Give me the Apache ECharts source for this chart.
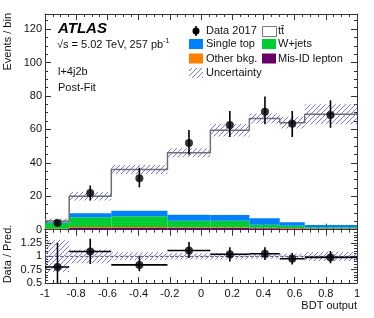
<!DOCTYPE html>
<html><head><meta charset="utf-8">
<script src="https://cdn.jsdelivr.net/npm/echarts@6/dist/echarts.min.js"></script>
<style>html,body{margin:0;padding:0;background:#fff}#c{width:374px;height:318px}</style>
</head><body><div id="c"></div>
<script>
// ---- data ----
const binEdges = [-1, -0.845, -0.575, -0.215, 0.06, 0.31, 0.505, 0.665, 1];
const misIdLepton = [0.3, 1.0, 1.0, 1.0, 1.0, 0.8, 0.7, 0.5];
const otherBkg = [0.2, 0.6, 0.6, 0.5, 0.5, 0.4, 0.3, 0.2];
const wJets = [3.5, 5.8, 6.4, 3.9, 3.9, 1.8, 1.4, 0.7];
const singleTop = [0.5, 2.4, 3.4, 3.6, 3.4, 3.8, 2.0, 1.4];
const ttbar = [0.7, 10.2, 24.6, 37.0, 50.7, 59.7, 59.6, 66.2];
const predUncert = [1.5, 2.6, 2.7, 2.7, 3.7, 3.0, 3.5, 6.0];
const dataX = [-0.92, -0.71, -0.395, -0.077, 0.185, 0.41, 0.585, 0.83];
const dataY = [4.0, 22.0, 30.8, 51.8, 62.6, 70.6, 63.4, 68.6];
const dataErrLo = [2.0, 4.6, 5.4, 7.0, 7.2, 7.6, 8.0, 7.6];
const dataErrHi = [2.0, 4.4, 6.2, 7.8, 8.4, 9.0, 7.6, 8.8];
const ratioY = [0.80, 1.09, 0.84, 1.11, 1.04, 1.05, 0.955, 0.98];
const ratioErrLo = [0.40, 0.235, 0.12, 0.14, 0.135, 0.12, 0.11, 0.11];
const ratioErrHi = [0.45, 0.24, 0.16, 0.16, 0.13, 0.12, 0.11, 0.12];
const ratioBand = [0.3, 0.13, 0.075, 0.06, 0.06, 0.045, 0.055, 0.085];

// ---- build ----
const FONT = "'Liberation Sans', Arial, Helvetica, sans-serif";
const nBins = binEdges.length - 1;
const COL = {misid:'#660066', other:'#ff7f00', wjets:'#00cc33', stop:'#0080ff'};

const hatch = document.createElement('canvas');
hatch.width = 5; hatch.height = 5;
(function(){
  const g = hatch.getContext('2d');
  g.strokeStyle = '#7575ff'; g.lineWidth = 1;
  g.beginPath();
  g.moveTo(-1, 6); g.lineTo(6, -1);
  g.moveTo(-1, 1); g.lineTo(1, -1);
  g.moveTo(4, 6); g.lineTo(6, 4);
  g.stroke();
})();
const hatchFill = {image: hatch, repeat: 'repeat'};

const layers = [misIdLepton, otherBkg, wJets, singleTop, ttbar];
const cum = [new Array(nBins).fill(0)];
layers.forEach((arr, k) => cum.push(arr.map((v, i) => cum[k][i] + v)));
const total = cum[cum.length - 1];

function rectSeries(lo, hi, fill, xi, yi, z) {
  const data = [];
  for (let i = 0; i < nBins; i++) data.push([binEdges[i], binEdges[i+1], lo[i], hi[i]]);
  return {
    type: 'custom', xAxisIndex: xi, yAxisIndex: yi, z: z, silent: true, clip: true,
    encode: {x: [0, 1], y: [2, 3]},
    data: data,
    renderItem: function (params, api) {
      const a = api.coord([api.value(0), api.value(3)]);
      const b = api.coord([api.value(1), api.value(2)]);
      return {type: 'rect', shape: {x: a[0], y: a[1], width: b[0] - a[0], height: b[1] - a[1]},
        style: {fill: fill, stroke: null}};
    }
  };
}
function segSeries(segs, xi, yi, color, width, z) {
  return {
    type: 'custom', xAxisIndex: xi, yAxisIndex: yi, z: z, silent: true, clip: true,
    encode: {x: [0, 2], y: [1, 3]},
    data: segs,
    renderItem: function (params, api) {
      const a = api.coord([api.value(0), api.value(1)]);
      const b = api.coord([api.value(2), api.value(3)]);
      return {type: 'line', shape: {x1: a[0], y1: a[1], x2: b[0], y2: b[1]},
        style: {stroke: color, lineWidth: width}};
    }
  };
}

const series = [];
const stackCols = [COL.misid, COL.other, COL.wjets, COL.stop];
stackCols.forEach((c, k) => series.push(rectSeries(cum[k], cum[k+1], c, 0, 0, 1)));
series.push(rectSeries(total.map((t, i) => t - predUncert[i]), total.map((t, i) => t + predUncert[i]), hatchFill, 0, 0, 2));
const stepPts = [];
for (let i = 0; i < nBins; i++) { stepPts.push([binEdges[i], total[i]]); stepPts.push([binEdges[i+1], total[i]]); }
series.push({type: 'line', xAxisIndex: 0, yAxisIndex: 0, data: stepPts, symbol: 'none', z: 3, silent: true,
  lineStyle: {color: '#6e6e6e', width: 1.5}});
series.push(segSeries(dataX.map((x, i) => [x, dataY[i] - dataErrLo[i], x, dataY[i] + dataErrHi[i]]), 0, 0, '#000', 1.6, 4));
series.push({type: 'scatter', xAxisIndex: 0, yAxisIndex: 0, data: dataX.map((x, i) => [x, dataY[i]]),
  symbol: 'circle', symbolSize: 8, itemStyle: {color: '#000'}, z: 5, silent: true});
// ratio panel
series.push(rectSeries(ratioBand.map(v => 1 - v), ratioBand.map(v => 1 + v), hatchFill, 2, 2, 2));
series.push({type: 'line', xAxisIndex: 2, yAxisIndex: 2, data: [[-1, 1], [1, 1]], symbol: 'none', z: 3, silent: true,
  lineStyle: {color: '#555', width: 1, type: [3, 2]}});
series.push(segSeries(dataX.map((x, i) => [x, ratioY[i] - ratioErrLo[i], x, ratioY[i] + ratioErrHi[i]]), 2, 2, '#000', 1.6, 4));
series.push(segSeries(ratioY.map((y, i) => [binEdges[i], y, binEdges[i+1], y]), 2, 2, '#000', 1.6, 4));
series.push({type: 'scatter', xAxisIndex: 2, yAxisIndex: 2, data: dataX.map((x, i) => [x, ratioY[i]]),
  symbol: 'circle', symbolSize: 8, itemStyle: {color: '#000'}, z: 5, silent: true});

const AX = '#333';
function xAx(grid, pos, labels) {
  return {type: 'value', gridIndex: grid, position: pos, min: -1, max: 1, interval: 0.2,
    axisLine: {show: true, onZero: false, lineStyle: {color: AX, width: 1}},
    axisTick: {show: true, inside: true, length: 6, lineStyle: {color: AX}},
    minorTick: {show: true, splitNumber: 4, length: 3, lineStyle: {color: AX}},
    splitLine: {show: false}, minorSplitLine: {show: false},
    axisLabel: {show: labels, color: '#111', fontFamily: FONT, fontSize: 11, margin: 5,
      showMinLabel: true, showMaxLabel: true, hideOverlap: false,
      formatter: v => String(+(+v).toFixed(1))}};
}
function yAx(grid, pos, labels, min, max, interval, minorSplit, hideVal) {
  return {type: 'value', gridIndex: grid, position: pos, min: min, max: max, interval: interval,
    axisLine: {show: true, onZero: false, lineStyle: {color: AX, width: 1}},
    axisTick: {show: true, inside: true, length: 6, lineStyle: {color: AX}},
    minorTick: {show: true, splitNumber: minorSplit, length: 3, lineStyle: {color: AX}},
    splitLine: {show: false}, minorSplitLine: {show: false},
    axisLabel: {show: labels, color: '#111', fontFamily: FONT, fontSize: 11, margin: 3,
      showMinLabel: true, showMaxLabel: true, hideOverlap: false,
      formatter: v => (+v >= hideVal - 1e-9) ? '' : String(+(+v).toFixed(2))}};
}

const T = (text, x, y, extra) => ({type: 'text', x: x, y: y, silent: true, z: 100,
  style: Object.assign({text: text, font: '11px ' + FONT, fill: '#111', align: 'left', verticalAlign: 'middle'}, extra || {})});
const B = (x, y, fill, stroke) => ({type: 'rect', shape: {x: x, y: y, width: 14, height: 10}, silent: true, z: 100,
  style: {fill: fill, stroke: stroke || null, lineWidth: 1}});

const graphic = [
  T('ATLAS', 58, 29, {font: 'italic bold 15px ' + FONT, fill: '#000'}),
  {type: 'text', x: 57, y: 45, silent: true, z: 100, style: {
    text: '{a|√s = 5.02 TeV, 257 pb}{s|-1}', verticalAlign: 'middle', align: 'left',
    rich: {a: {font: '11px ' + FONT, fill: '#111', lineHeight: 14}, s: {font: '7px ' + FONT, fill: '#111', verticalAlign: 'top', lineHeight: 14, padding: [0, 0, 4, 0]}}}},
  T('l+4j2b', 58, 72),
  T('Post-Fit', 58, 88),
  // legend
  {type: 'line', shape: {x1: 196, y1: 26, x2: 196, y2: 36}, style: {stroke: '#000', lineWidth: 1.6}, z: 100, silent: true},
  {type: 'circle', shape: {cx: 196, cy: 31, r: 3.5}, style: {fill: '#000'}, z: 100, silent: true},
  T('Data 2017', 206, 31),
  B(262.5, 26.5, '#fff', '#777'),
  T('tt\u0304', 278, 31),
  B(189, 39, COL.stop), T('Single top', 206, 44),
  B(262, 39, COL.wjets), T('W+jets', 278, 44),
  B(189, 53.5, COL.other), T('Other bkg.', 206, 58.5),
  B(262, 53.5, COL.misid), T('Mis-ID lepton', 278, 58.5),
  B(189, 68, hatchFill), T('Uncertainty', 206, 73),
  // axis titles
  Object.assign(T('Events / bin', 8, 13, {align: 'right'}), {rotation: Math.PI / 2}),
  Object.assign(T('Data / Pred.', 8, 254, {align: 'center'}), {rotation: Math.PI / 2}),
  T('BDT output', 357, 306, {align: 'right'})
];

const chart = echarts.init(document.getElementById('c'), null, {renderer: 'canvas'});
chart.setOption({
  animation: false,
  backgroundColor: '#fff',
  grid: [
    {left: 45, right: 17, top: 14, height: 215.7},
    {left: 45, right: 17, top: 229.7, height: 53.3}
  ],
  xAxis: [xAx(0, 'bottom', false), xAx(0, 'top', false), xAx(1, 'bottom', true), xAx(1, 'top', false)],
  yAxis: [yAx(0, 'left', true, 0, 129, 20, 4, 125), yAx(0, 'right', false, 0, 129, 20, 4, 125),
          yAx(1, 'left', true, 0.5, 1.5, 0.25, 5, 1.4), yAx(1, 'right', false, 0.5, 1.5, 0.25, 5, 1.4)],
  series: series,
  graphic: graphic
});
</script></body></html>
